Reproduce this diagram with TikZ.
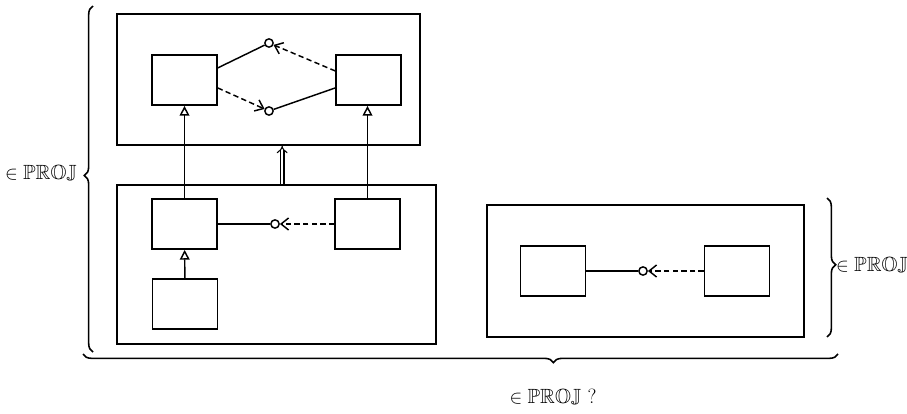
\documentclass[tikz,border=0pt]{standalone}
\usepackage{amsmath,amssymb}
\usepackage{tikz}
\usetikzlibrary{arrows.meta,decorations.pathreplacing}
\begin{document}
\begin{tikzpicture}[x=0.0265cm, y=-0.0265cm, line width=1.1pt,
  M/.style={draw, line width=1.3pt, inner sep=0pt},
  b/.style={draw, line width=1.2pt, minimum width=1.72cm, minimum height=1.33cm, inner sep=0pt},
  c/.style={circle, draw, inner sep=0pt, minimum size=2.2mm},
  d/.style={dash pattern=on 4pt off 2.5pt, -{Straight Barb[length=2mm,width=3.2mm]}},
  i/.style={-{Triangle[open,length=2.6mm,width=2.6mm]}},
  br/.style={decorate, decoration={brace, amplitude=2.3mm, aspect=#1}, line width=1.2pt},
  br/.default=0.5,
  lab/.style={font=\fontsize{15.5}{18}\selectfont}]
 \useasboundingbox (0,0) rectangle (907,413);
 % upper module
 \node[M, minimum width=8.03cm, minimum height=3.47cm] (M1) at (268.5,79.5) {};
 \node[b] (A1) at (184.5,80) {};
 \node[b] (A2) at (368.5,80) {};
 \node[c] (o1) at (269,43) {};
 \node[c] (o2) at (269,111) {};
 \draw ([yshift=3.2mm]A1.east) -- (o1);
 \draw[d] ([yshift=2.4mm]A2.west) -- (o1);
 \draw[d] ([yshift=-2.1mm]A1.east) -- (o2);
 \draw (o2) -- ([yshift=-2.1mm]A2.west);
 % lower module
 \node[M, minimum width=8.45cm, minimum height=4.21cm] (M2) at (276.5,264.5) {};
 \node[b] (B1) at (184.5,224) {};
 \node[b] (B2) at (367.5,224) {};
 \node[b] (B3) at (185,304) {};
 \node[c] (o3) at (275,224) {};
 \draw (B1) -- (o3);
 \draw[d] (B2) -- (o3);
 \draw[i] (B3) -- (B1);
 \draw[i] (B1) -- (A1);
 \draw[i] (B2.north) -- (B2.north |- A2.south);
 \draw[double, double distance=2pt, line width=0.8pt, -{Implies}]
   ([xshift=1.5mm]M2.north) -- ([xshift=1.5mm]M2.north |- M1.south);
 % right module
 \node[M, minimum width=8.40cm, minimum height=3.50cm] (M3) at (645.5,271) {};
 \node[b] (C1) at (553,271) {};
 \node[b] (C2) at (737,271) {};
 \node[c] (o4) at (643,271) {};
 \draw (C1) -- (o4);
 \draw[d] (C2) -- (o4);
 % braces
 \draw[br=0.51] (93,352) -- (93,6);
 \draw[br=0.48] (827,198) -- (827,337);
 \draw[br=0.377] (838,354) -- (83,354);
 \node[lab] (l1) at (41,174) {$\in \mathbb{PROJ}$};
 \node[lab] (l2) at (872,266) {$\in \mathbb{PROJ}$};
 \node[lab] (l3) at (553,398) {$\in \mathbb{PROJ}$ ?};
\end{tikzpicture}
\end{document}
